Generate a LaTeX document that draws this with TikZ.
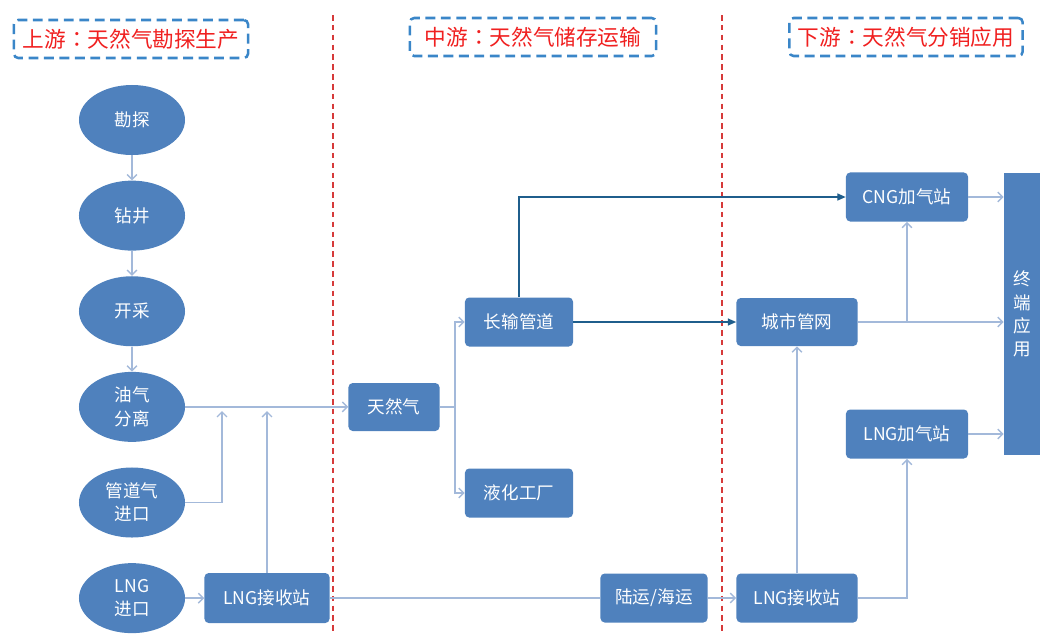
\documentclass[tikz,border=0pt]{standalone}
\usepackage{fontspec}
\setmainfont{Noto Sans CJK SC}
\newfontfamily\tcfont{Noto Sans CJK TC}
\usetikzlibrary{shapes.geometric,arrows.meta,positioning}
\definecolor{boxblue}{HTML}{4F81BD}
\definecolor{linelight}{HTML}{A3B9DA}
\definecolor{linedark}{HTML}{1F5E8C}
\definecolor{titleblue}{HTML}{3A86C8}
\definecolor{titlered}{HTML}{F02020}
\definecolor{dashred}{HTML}{D63A3A}
\newcommand{\sep}{{\tcfont ：}}
\begin{document}
\begin{tikzpicture}[x=0.025cm, y=-0.025cm, node distance=2.39cm,
  font=\fontsize{12.5}{16.5}\selectfont,
  stage/.style={ellipse, fill=boxblue, text=white, minimum width=2.65cm, minimum height=1.75cm, inner sep=0pt, align=center},
  box/.style={rectangle, fill=boxblue, text=white, rounded corners=3pt, minimum height=1.225cm, inner sep=0pt, align=center},
  title/.style={draw=titleblue, line width=1.8pt, dash pattern=on 7pt off 4pt, rounded corners=3pt, text=titlered, minimum height=0.95cm, font=\fontsize{15.4}{18}\selectfont},
  flow/.style={draw=linelight, line width=1pt, -{Straight Barb[length=3.5pt,width=7pt]}},
  plain/.style={draw=linelight, line width=1pt},
  main/.style={draw=linedark, line width=1pt, -{Triangle[length=6pt,width=5pt]}},
  border/.style={dashred, line width=1.2pt, dash pattern=on 4pt off 3pt}]
\useasboundingbox (0,0) rectangle (1040,633);

% stage borders
\draw [border] (333,15) -- (333,633);
\draw [border] (722,15) -- (722,633);

\node (up) [title, minimum width=5.85cm] at (131,39) {上游\sep 天然气勘探生产};
\node (mid) [title, minimum width=6.15cm] at (533,37) {中游\sep 天然气储存运输};
\node (down) [title, minimum width=5.83cm] at (906,37) {下游\sep 天然气分销应用};

% upstream
\node (kantan) [stage] at (132,120) {勘探};
\node (zuanjing) [stage, below of=kantan] {钻井};
\node (kaicai) [stage, below of=zuanjing] {开采};
\node (fenli) [stage, below of=kaicai] {油气\\分离};
\node (guandao) [stage, below of=fenli] {管道气\\进口};
\node (jinkou) [stage, below of=guandao] {LNG\\进口};
\node (jieshouA) [box, minimum width=3.125cm, minimum height=1.25cm] at (267,598) {LNG接收站};

% midstream
\node (gas) [box, minimum width=2.275cm, minimum height=1.2cm] at (394,407) {天然气};
\node (changshu) [box, minimum width=2.7cm] at (519,322) {长输管道};
\node (yehua) [box, minimum width=2.7cm] at (519,493) {液化工厂};
\node (yunshu) [box, minimum width=2.675cm] at (654,598) {陆运/海运};

% downstream
\node (guanwang) [box, minimum width=3.025cm, minimum height=1.2cm] at (797,322) {城市管网};
\node (jieshouB) [box, minimum width=3.025cm] at (797,598) {LNG接收站};
\node (cng) [box, minimum width=3.05cm] at (907,197) {CNG加气站};
\node (lng) [box, minimum width=3.05cm] at (907,434) {LNG加气站};
\node (zhongduan) [box, rounded corners=0pt, minimum width=0.9cm, minimum height=7.05cm] at (1022,314) {终\\端\\应\\用};

\coordinate (inA) at (222,411);
\coordinate (inB) at (267,411);

\draw [flow] (kantan) -- (zuanjing);
\draw [flow] (zuanjing) -- (kaicai);
\draw [flow] (kaicai) -- (fenli);
\draw [flow] (fenli.east) -- (fenli.east -| gas.west);
\draw [flow] (guandao.east) -| (inA);
\draw [flow] (jinkou.east) -- (jinkou.east -| jieshouA.west);
\draw [flow] (jieshouA.north) -- (inB);
\draw [flow] (gas.east) -- ++(15,0) |- (changshu.west);
\draw [flow] (gas.east) -- ++(15,0) |- (yehua.west);
\draw [main] (changshu.north) |- (cng.west);
\draw [main] (changshu.east) -- (guanwang.west);
\draw [plain] (jieshouA.east) -- (yunshu.west);
\draw [flow] (yunshu.east) -- (jieshouB.west);
\draw [flow] (jieshouB.north) -- (guanwang.south);
\draw [flow] (jieshouB.east) -| (lng.south);
\draw [flow] (guanwang.east) -- (guanwang.east -| zhongduan.west);
\draw [flow] (cng.south |- guanwang.east) -- (cng.south);
\draw [flow] (cng.east) -- (cng.east -| zhongduan.west);
\draw [flow] (lng.east) -- (lng.east -| zhongduan.west);
\end{tikzpicture}
\end{document}
